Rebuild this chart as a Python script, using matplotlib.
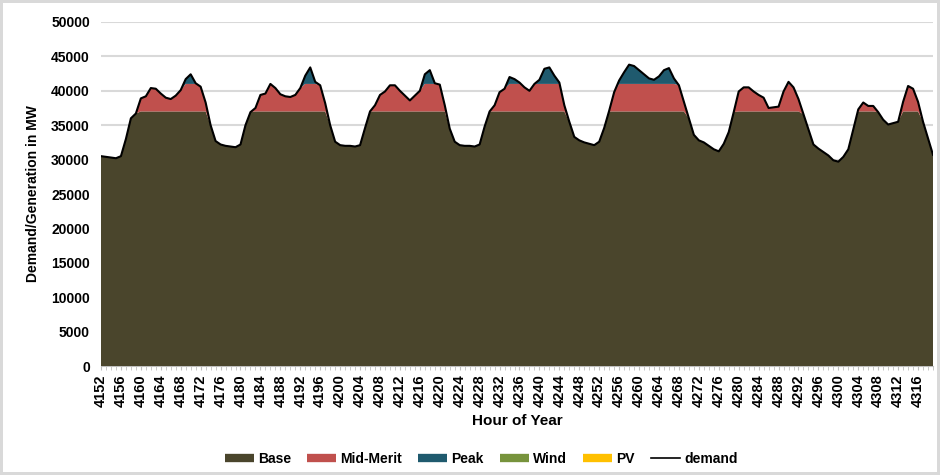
import numpy as np
import matplotlib
matplotlib.use("Agg")
import matplotlib.pyplot as plt
from matplotlib.lines import Line2D

plt.rcParams['font.family'] = ['Liberation Sans', 'DejaVu Sans']

start_hour = 4152
demand = [
    30.5, 30.4, 30.3, 30.2, 30.5, 33.0, 36.0, 36.7, 38.9, 39.2,
    40.4, 40.3, 39.6, 39.0, 38.8, 39.3, 40.1, 41.7, 42.4, 41.1,
    40.6, 38.3, 35.0, 32.7, 32.2, 32.0, 31.9, 31.8, 32.2, 35.0,
    36.9, 37.5, 39.4, 39.6, 41.0, 40.4, 39.5, 39.2, 39.1, 39.4,
    40.4, 42.2, 43.4, 41.3, 40.8, 38.2, 35.0, 32.6, 32.1, 32.0,
    32.0, 31.9, 32.1, 34.6, 37.0, 37.9, 39.4, 39.9, 40.8, 40.8,
    40.0, 39.3, 38.6, 39.3, 40.0, 42.4, 43.0, 41.1, 40.9, 37.9,
    34.5, 32.6, 32.1, 32.0, 32.0, 31.9, 32.2, 34.8, 37.0, 37.9,
    39.8, 40.3, 42.0, 41.7, 41.2, 40.5, 40.0, 41.0, 41.6, 43.2,
    43.4, 42.2, 41.2, 37.9, 35.5, 33.3, 32.8, 32.5, 32.3, 32.1,
    32.6, 34.6, 37.1, 39.8, 41.5, 42.7, 43.8, 43.6, 43.0, 42.4,
    41.8, 41.6, 42.1, 43.0, 43.3, 41.8, 40.8, 38.4, 36.0, 33.6,
    32.8, 32.5, 32.0, 31.5, 31.2, 32.3, 34.0, 36.9, 39.9, 40.5,
    40.5, 39.9, 39.4, 39.0, 37.5, 37.6, 37.7, 39.9, 41.3, 40.5,
    38.8, 36.6, 34.4, 32.2, 31.6, 31.1, 30.6, 29.9, 29.7, 30.4,
    31.5, 34.4, 37.3, 38.3, 37.8, 37.8, 36.9, 35.8, 35.1, 35.3,
    35.5, 38.4, 40.7, 40.3, 38.4, 35.5, 33.1, 30.7,
]
demand = np.array(demand) * 1000.0
hours = np.arange(start_hour, start_hour + len(demand))

base_capacity = 37000.0
midmerit_capacity = 4000.0

base = np.minimum(demand, base_capacity)
mid = np.clip(demand - base_capacity, 0, midmerit_capacity)
peak = np.maximum(demand - base_capacity - midmerit_capacity, 0)
wind = np.zeros_like(demand)
pv = np.zeros_like(demand)

series_names = ["Base", "Mid-Merit", "Peak", "Wind", "PV"]
colors = ["#4A452C", "#C0504D", "#1F5A6E", "#77933C", "#FFC000"]

fig = plt.figure(figsize=(9.4, 4.75), dpi=100)
fig.patch.set_facecolor("white")
fig.patch.set_edgecolor("#D9D9D9")
fig.patch.set_linewidth(3)
ax = fig.add_axes([101/940, 1-366/475, (933-101)/940, (366-22)/475])

ax.stackplot(hours, base, mid, peak, wind, pv, colors=colors, linewidth=0, zorder=2)
ax.plot(hours, demand, color="black", linewidth=1.5, zorder=3)

ax.set_xlim(hours[0], hours[-1])
ax.set_ylim(0, 50000)
ax.set_yticks(np.arange(0, 50001, 5000))
ax.yaxis.grid(True, color="#D9D9D9", linewidth=1.5, zorder=0)
ax.set_axisbelow(True)
for s in ["left", "right", "top"]:
    ax.spines[s].set_visible(False)
ax.spines["bottom"].set_color("#BFBFBF")
ax.spines["bottom"].set_zorder(1)
ax.tick_params(axis="y", length=0, labelsize=10, pad=8)
ax.set_xticks(hours[::4])
ax.set_xticks(hours, minor=True)
ax.tick_params(axis="x", which="both", length=3, color="#BFBFBF", labelsize=10.5, pad=3)
ax.set_xticklabels([str(h) for h in hours[::4]], rotation=90, fontweight="bold")
for lab in ax.get_yticklabels():
    lab.set_fontweight("bold")

ax.set_ylabel("Demand/Generation in MW", fontsize=10, fontweight="bold", labelpad=8)
ax.set_xlabel("Hour of Year", fontsize=11, fontweight="bold", labelpad=5)

handles = [Line2D([0], [0], color=c, linewidth=6, solid_capstyle="butt") for c in colors]
handles.append(Line2D([0], [0], color="black", linewidth=1.2))
fig.legend(handles, series_names + ["demand"], loc="center", bbox_to_anchor=(0.512, 0.034),
           ncol=6, frameon=False, handlelength=2.1, columnspacing=1.15, handletextpad=0.3,
           prop={"weight": "bold", "size": 10})

fig.savefig("out.png", dpi=100)
